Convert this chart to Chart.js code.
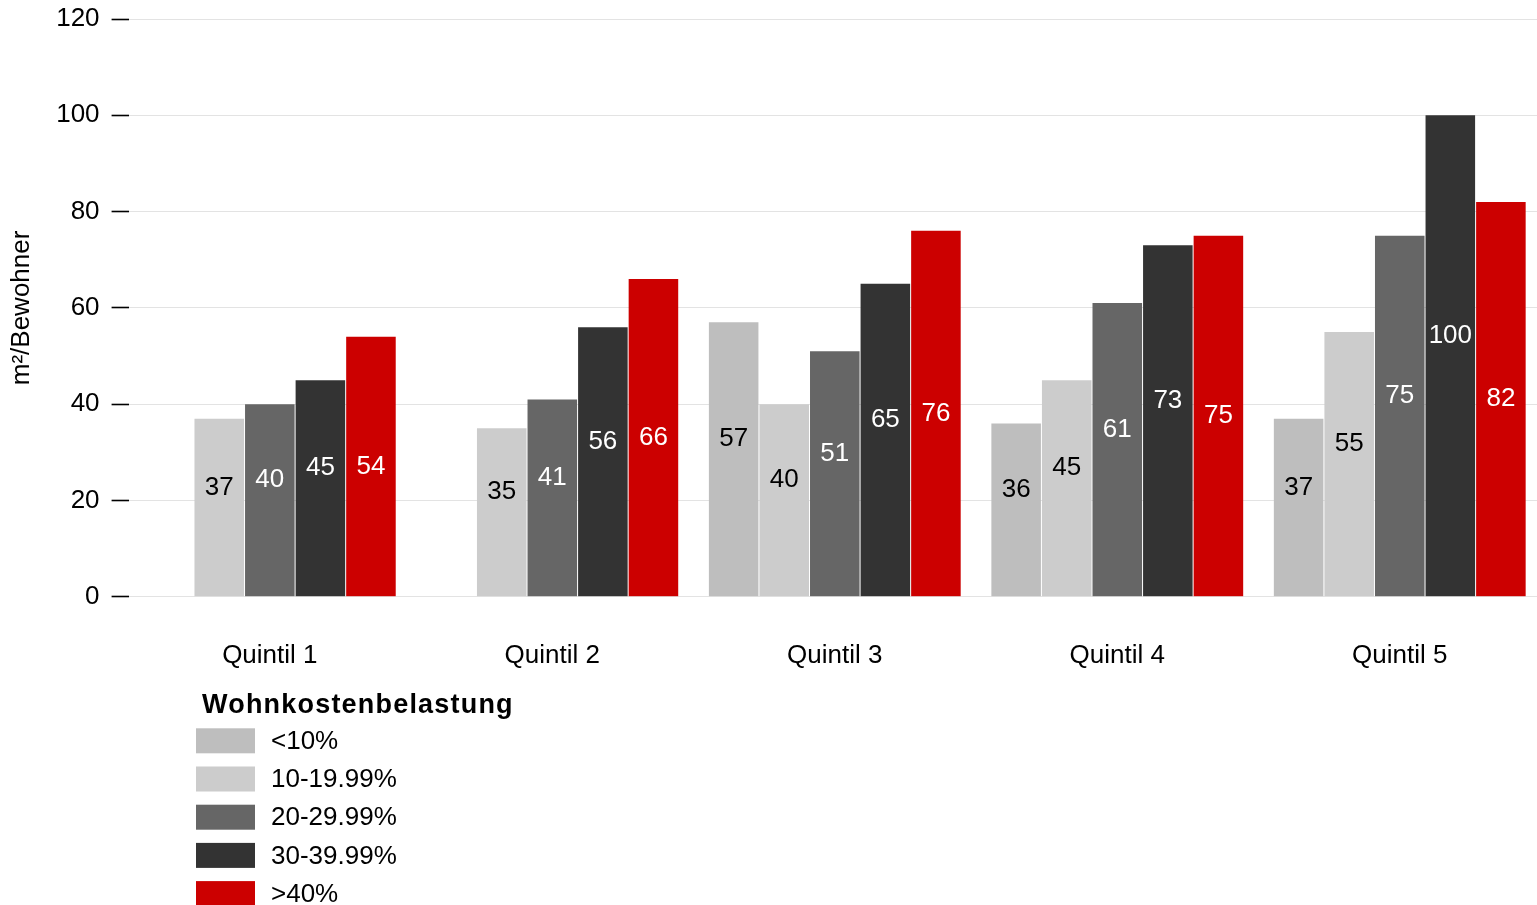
<!DOCTYPE html>
<html>
<head>
<meta charset="utf-8">
<script src="https://cdn.jsdelivr.net/npm/chart.js@4/dist/chart.umd.min.js"></script>
<style>
  html, body { margin: 0; padding: 0; background: #fff; overflow: hidden; }
  #wrap { position: absolute; left: 0; top: 0; width: 1541px; height: 905px; }
</style>
</head>
<body>
<div id="wrap"><canvas id="chart" width="1541" height="905"></canvas></div>
<script>
// Wohnfläche pro Bewohner nach Einkommensquintil und Wohnkostenbelastung
const categories = ['Quintil 1', 'Quintil 2', 'Quintil 3', 'Quintil 4', 'Quintil 5'];
const seriesNames = ['<10%', '10-19.99%', '20-29.99%', '30-39.99%', '>40%'];
const under10 = [null, null, 57, 36, 37];
const from10to20 = [37, 35, 40, 45, 55];
const from20to30 = [40, 41, 51, 61, 75];
const from30to40 = [45, 56, 65, 73, 100];
const over40 = [54, 66, 76, 75, 82];
const yTicks = [0, 20, 40, 60, 80, 100, 120];
const legendTitle = 'Wohnkostenbelastung';
const yTitle = 'm²/Bewohner';

const colors = ['#bebebe', '#cccccc', '#666666', '#333333', '#cc0000'];
const labelColors = ['#000000', '#000000', '#ffffff', '#ffffff', '#ffffff'];
const labelShift = [-20, -20, -20, -20, 0];
const FONT = '"Liberation Sans", Arial, Helvetica, sans-serif';

const seriesValues = [under10, from10to20, from20to30, from30to40, over40];

// value labels inside the bars
const barLabels = {
  id: 'barLabels',
  afterDatasetsDraw(chart) {
    const ctx = chart.ctx;
    ctx.save();
    ctx.font = '26px ' + FONT;
    ctx.textAlign = 'center';
    ctx.textBaseline = 'middle';
    chart.data.datasets.forEach((ds, i) => {
      const meta = chart.getDatasetMeta(i);
      meta.data.forEach((bar, j) => {
        const v = ds.data[j];
        if (v === null || v === undefined) return;
        const mid = (bar.y + bar.base) / 2 + labelShift[i];
        ctx.fillStyle = labelColors[i];
        ctx.fillText(String(v), bar.x, mid);
      });
    });
    ctx.restore();
  }
};

// vertical legend block below the plot
const blockLegend = {
  id: 'blockLegend',
  afterDraw(chart) {
    const ctx = chart.ctx;
    const x0 = 196;
    const top = chart.chartArea.bottom + 109;
    ctx.save();
    ctx.textBaseline = 'middle';
    ctx.textAlign = 'left';
    ctx.fillStyle = '#000';
    ctx.font = 'bold 27px ' + FONT;
    ctx.letterSpacing = '1.2px';
    ctx.fillText(legendTitle, 202, top);
    ctx.letterSpacing = '0px';
    ctx.font = '26px ' + FONT;
    chart.data.datasets.forEach((ds, i) => {
      const cy = top + 35 + i * 38.2;
      ctx.fillStyle = ds.backgroundColor;
      ctx.fillRect(x0, cy - 12.5, 59, 25);
      ctx.fillStyle = '#000';
      ctx.fillText(ds.label, 271, cy + 1);
    });
    ctx.restore();
  }
};

new Chart(document.getElementById('chart'), {
  type: 'bar',
  data: {
    labels: categories,
    datasets: seriesValues.map((vals, i) => ({
      label: seriesNames[i],
      data: vals,
      backgroundColor: colors[i],
      borderWidth: 0,
      categoryPercentage: 0.895,
      barPercentage: 0.98
    }))
  },
  options: {
    responsive: false,
    animation: false,
    devicePixelRatio: 1,
    layout: { padding: { left: 0, right: 0, top: 0, bottom: 191 } },
    plugins: {
      legend: { display: false },
      tooltip: { enabled: false },
      title: { display: false }
    },
    scales: {
      x: {
        grid: { display: false, drawTicks: false },
        border: { display: false },
        ticks: {
          color: '#000',
          padding: 43,
          font: { family: FONT, size: 26 }
        }
      },
      y: {
        min: 0,
        max: 120,
        afterBuildTicks(axis) { axis.ticks = yTicks.map(v => ({ value: v })); },
        grid: {
          color: '#e3e3e3',
          lineWidth: 1,
          tickColor: '#000',
          tickLength: 17,
          tickWidth: 1.6
        },
        border: { display: false },
        ticks: {
          color: '#000',
          padding: 12,
          font: { family: FONT, size: 26, lineHeight: 0.54 }
        },
        title: {
          display: true,
          text: yTitle,
          color: '#000',
          padding: { top: 6, bottom: 7 },
          font: { family: FONT, size: 26 }
        }
      }
    }
  },
  plugins: [barLabels, blockLegend]
});
</script>
</body>
</html>
